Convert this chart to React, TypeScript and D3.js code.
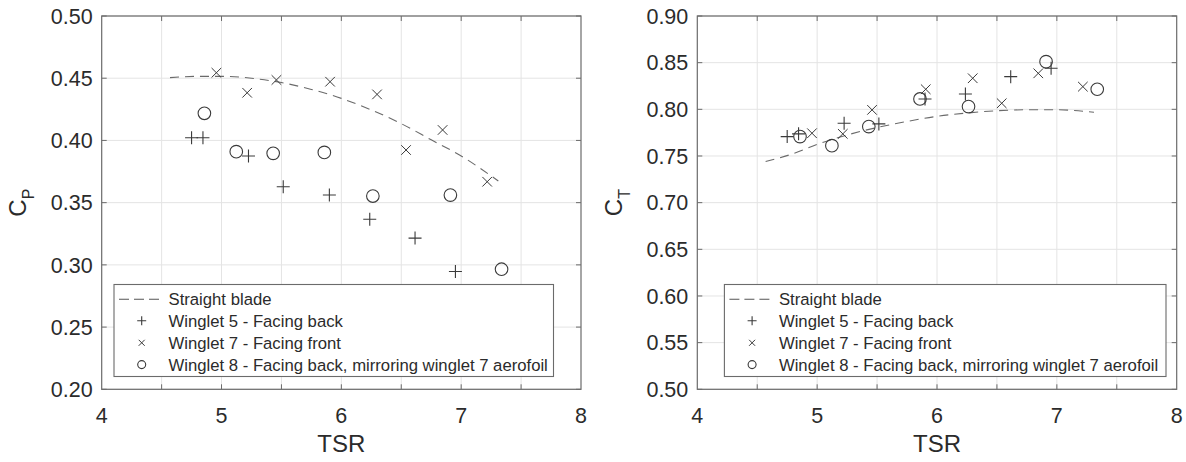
import React from "react";
import * as d3 from "d3";

// C_P and C_T versus TSR, straight blade vs three winglets

const tsrTicks = [4, 5, 6, 7, 8];
const tsrGrid = [4.5, 5, 5.5, 6, 6.5, 7, 7.5];
const cpTicks = [0.2, 0.25, 0.3, 0.35, 0.4, 0.45, 0.5];
const ctTicks = [0.5, 0.55, 0.6, 0.65, 0.7, 0.75, 0.8, 0.85, 0.9];

const straightTsr = [4.57, 4.8, 5.0, 5.25, 5.5, 5.75, 6.0, 6.25, 6.5, 6.75, 7.0, 7.31];
const straightCp = [0.4505, 0.4515, 0.4515, 0.45, 0.4465, 0.441, 0.4338, 0.4245, 0.4135, 0.4005, 0.3875, 0.3674];
const straightCt = [0.744, 0.7525, 0.7625, 0.7725, 0.7805, 0.787, 0.7925, 0.796, 0.7985, 0.7995, 0.7995, 0.7968];

const w5Tsr = [4.75, 4.845, 5.225, 5.515, 5.9, 6.237, 6.615, 6.952];
const w5Cp = [0.4022, 0.4022, 0.3875, 0.3628, 0.3561, 0.3366, 0.3215, 0.2947];
const w5Ct = [0.7708, 0.7737, 0.7851, 0.7844, 0.8111, 0.8165, 0.835, 0.844];

const w7Tsr = [4.957, 5.214, 5.458, 5.906, 6.298, 6.54, 6.845, 7.217];
const w7Cp = [0.4544, 0.4383, 0.4486, 0.4472, 0.437, 0.3923, 0.4084, 0.3668];
const w7Ct = [0.7744, 0.7737, 0.7994, 0.8215, 0.8333, 0.8065, 0.8386, 0.8243];

const w8Tsr = [4.857, 5.123, 5.431, 5.858, 6.263, 6.91, 7.337];
const w8Cp = [0.4218, 0.391, 0.3896, 0.3904, 0.3553, 0.3561, 0.2965];
const w8Ct = [0.7708, 0.7611, 0.7815, 0.8111, 0.8029, 0.8511, 0.8215];

const legendLabels = [
  "Straight blade",
  "Winglet 5 - Facing back",
  "Winglet 7 - Facing front",
  "Winglet 8 - Facing back, mirroring winglet 7 aerofoil",
];

const FONT = "'Liberation Sans', Arial, Helvetica, sans-serif";
const TEXT = "#2b2b2b";
const AXIS = "#6b6b6b";
const GRID = "#e4e4e4";
const MARK = "#3a3a3a";

const zip = (xs, ys) => xs.map((x, i) => [x, ys[i]]);

function Plus({ x, y, s }) {
  return <path d={`M${x - s},${y}H${x + s}M${x},${y - s}V${y + s}`} stroke={MARK} strokeWidth={1.1} fill="none" />;
}
function Cross({ x, y, s }) {
  return <path d={`M${x - s},${y - s}L${x + s},${y + s}M${x - s},${y + s}L${x + s},${y - s}`} stroke={MARK} strokeWidth={1} fill="none" />;
}
function Ring({ x, y, r }) {
  return <circle cx={x} cy={y} r={r} stroke={MARK} strokeWidth={1.1} fill="none" />;
}

function Panel({ x0, x1, yDomain, yTicks, straight, w5, w7, w8, sub, labelX, legend }) {
  const top = 16, bottom = 389.3;
  const x = d3.scaleLinear().domain([4, 8]).range([x0, x1]);
  const y = d3.scaleLinear().domain(yDomain).range([bottom, top]);
  const line = d3.line().x(d => x(d[0])).y(d => y(d[1])).curve(d3.curveMonotoneX);
  const tl = 5;
  const midY = (top + bottom) / 2;
  const lx = legend.x, lw = legend.w, ly = 284.5, lh = 92;
  const rows = [299.2, 320.8, 342.8, 364.6];
  return (
    <g>
      {tsrGrid.map(t => (
        <line key={"gx" + t} x1={x(t)} x2={x(t)} y1={top} y2={bottom} stroke={GRID} />
      ))}
      {yTicks.map(t => (
        <line key={"gy" + t} x1={x0} x2={x1} y1={y(t)} y2={y(t)} stroke={GRID} />
      ))}
      {tsrGrid.map(t => (
        <g key={"tx" + t}>
          <line x1={x(t)} x2={x(t)} y1={bottom} y2={bottom - tl} stroke={AXIS} />
          <line x1={x(t)} x2={x(t)} y1={top} y2={top + tl} stroke={AXIS} />
        </g>
      ))}
      {yTicks.map(t => (
        <g key={"ty" + t}>
          <line x1={x0} x2={x0 + tl} y1={y(t)} y2={y(t)} stroke={AXIS} />
          <line x1={x1} x2={x1 - tl} y1={y(t)} y2={y(t)} stroke={AXIS} />
        </g>
      ))}
      <rect x={x0} y={top} width={x1 - x0} height={bottom - top} fill="none" stroke={AXIS} strokeWidth={1.2} />

      <path d={line(straight)} fill="none" stroke="#6a6a6a" strokeWidth={1.1} strokeDasharray="9,6" />
      {w5.map((d, i) => <Plus key={"p" + i} x={x(d[0])} y={y(d[1])} s={6.5} />)}
      {w7.map((d, i) => <Cross key={"c" + i} x={x(d[0])} y={y(d[1])} s={4.8} />)}
      {w8.map((d, i) => <Ring key={"o" + i} x={x(d[0])} y={y(d[1])} r={6.3} />)}

      <g fontFamily={FONT} fill={TEXT}>
        {tsrTicks.map(t => (
          <text key={"lx" + t} x={x(t)} y={422.5} fontSize={21.5} textAnchor="middle">{t}</text>
        ))}
        {yTicks.map(t => (
          <text key={"ly" + t} x={x0 - 9} y={y(t)} dy="0.36em" fontSize={21.5} textAnchor="end">{d3.format(".2f")(t)}</text>
        ))}
        <text x={(x0 + x1) / 2} y={452} fontSize={24} textAnchor="middle">TSR</text>
        <text transform={`translate(${labelX},${midY}) rotate(-90)`} fontSize={24} textAnchor="middle">
          C<tspan fontSize={16} dy={8}>{sub}</tspan>
        </text>
      </g>

      <rect x={lx} y={ly} width={lw} height={lh} fill="#fff" stroke={AXIS} strokeWidth={1.1} />
      <line x1={lx + 5} x2={lx + 50} y1={rows[0]} y2={rows[0]} stroke="#555" strokeWidth={1.1} strokeDasharray="10,5" />
      <Plus x={lx + 27.7} y={rows[1]} s={4.5} />
      <Cross x={lx + 27.7} y={rows[2]} s={3} />
      <Ring x={lx + 27.7} y={rows[3]} r={4} />
      <g fontFamily={FONT} fill={TEXT} fontSize={16.7}>
        {legendLabels.map((s, i) => (
          <text key={s} x={lx + 54.5} y={rows[i]} dy="0.36em">{s}</text>
        ))}
      </g>
    </g>
  );
}

export default function App() {
  return (
    <svg width={1186} height={462} style={{ position: "absolute", left: 0, top: 0, background: "#fff" }}>
      <Panel
        x0={101.7} x1={581} yDomain={[0.2, 0.5]} yTicks={cpTicks}
        straight={zip(straightTsr, straightCp)}
        w5={zip(w5Tsr, w5Cp)} w7={zip(w7Tsr, w7Cp)} w8={zip(w8Tsr, w8Cp)}
        sub="P" labelX={26} legend={{ x: 114, w: 439.5 }}
      />
      <Panel
        x0={697.3} x1={1176.7} yDomain={[0.5, 0.9]} yTicks={ctTicks}
        straight={zip(straightTsr, straightCt)}
        w5={zip(w5Tsr, w5Ct)} w7={zip(w7Tsr, w7Ct)} w8={zip(w8Tsr, w8Ct)}
        sub="T" labelX={622} legend={{ x: 724.4, w: 441.6 }}
      />
    </svg>
  );
}
